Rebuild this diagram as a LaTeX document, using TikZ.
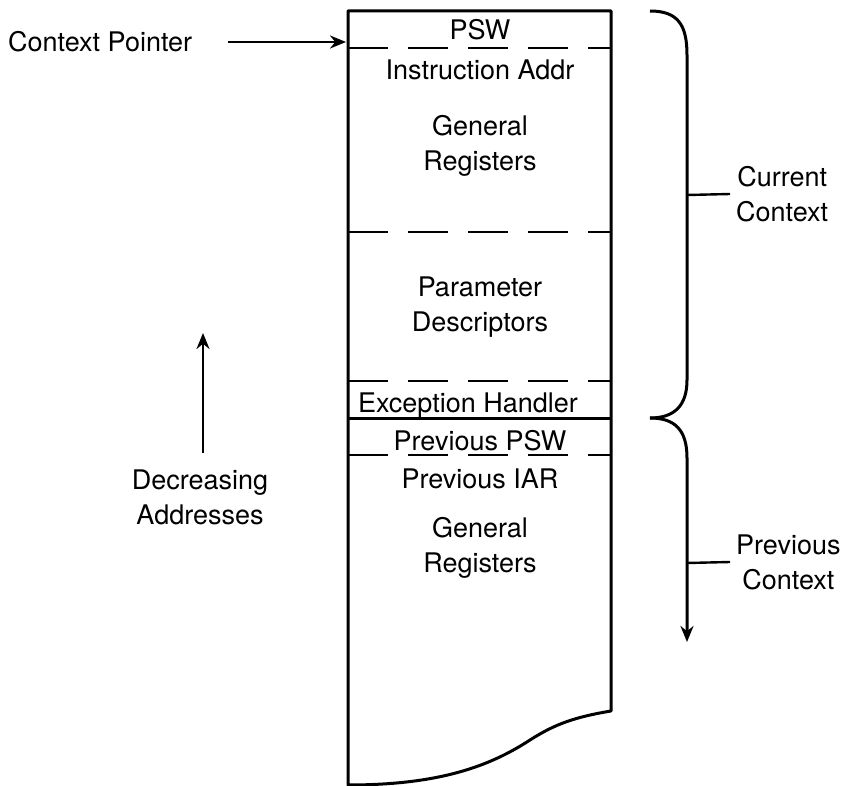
\documentclass[tikz,border=0pt]{standalone}
\usepackage{fontspec}
\setmainfont{TeX Gyre Heros}
\usetikzlibrary{arrows.meta}
\begin{document}
\begin{tikzpicture}[x=1pt,y=-1pt,
  lbl/.style={font=\fontsize{27}{33}\selectfont, inner sep=0pt, align=center},
  thick line/.style={line width=3pt},
  dashline/.style={line width=2.8pt, dash pattern=on 40pt off 20pt},
  arr/.style={line width=2.6pt, -{Stealth[length=16pt,width=13pt]}}]
\useasboundingbox (0,0) rectangle (841,786);
% box outline
\draw[thick line, line join=round] (348,11) -- (611,11) -- (611,711)
  .. controls (575,717) and (555,724) .. (530,740)
  .. controls (490,766) and (440,785) .. (348,785) -- cycle;
\coordinate (boxtopleft) at (346,42);
% separators
\draw[dashline] (348,48) -- (611,48);
\draw[dashline] (348,232) -- (611,232);
\draw[dashline] (348,381) -- (611,381);
\draw[thick line] (348,418) -- (611,418);
\draw[dashline] (348,455) -- (611,455);
% box texts
\node[lbl] (psw) at (480,30) {PSW};
\node[lbl] (iaddr) at (480,70) {Instruction Addr};
\node[lbl] (greg1) at (480,146) {General\\[2pt]Registers};
\node[lbl] (pdesc) at (480,307) {Parameter\\[2pt]Descriptors};
\node[lbl] (exh) at (468,406) {Exception Handler};
\node[lbl] (ppsw) at (480,441) {Previous PSW};
\node[lbl] (piar) at (480,479) {Previous IAR};
\node[lbl] (greg2) at (480,548) {General\\[2pt]Registers};
% left labels
\node[lbl, anchor=west] (cp) at (8,42) {Context Pointer};
\draw[arr] (228,42) -- (boxtopleft);
\node[lbl] (dec) at (200,497) {Decreasing\\[2pt]Addresses};
\coordinate (decbot) at (203,453);
\coordinate (dectop) at (203,333);
\draw[arr] (decbot) -- (dectop);
% braces
\coordinate (tip) at (650,418);
\draw[thick line] (650,11) .. controls (678,11) and (687,25) .. (687,55)
  -- (687,380) .. controls (687,405) and (675,418) .. (tip);
\draw[thick line, -{Stealth[length=16pt,width=13pt]}] (tip) .. controls (675,418) and (687,430) .. (687,458) -- (687,642);
% right labels
\node[lbl, anchor=west] (cur) at (736,194) {Current\\[2pt]Context};
\draw[line width=2.4pt] (687,195) -- ([xshift=-6pt]cur.west);
\node[lbl, anchor=west] (prev) at (736,562) {Previous\\[2pt]Context};
\draw[line width=2.4pt] (687,563) -- ([xshift=-6pt]prev.west);
\end{tikzpicture}
\end{document}
